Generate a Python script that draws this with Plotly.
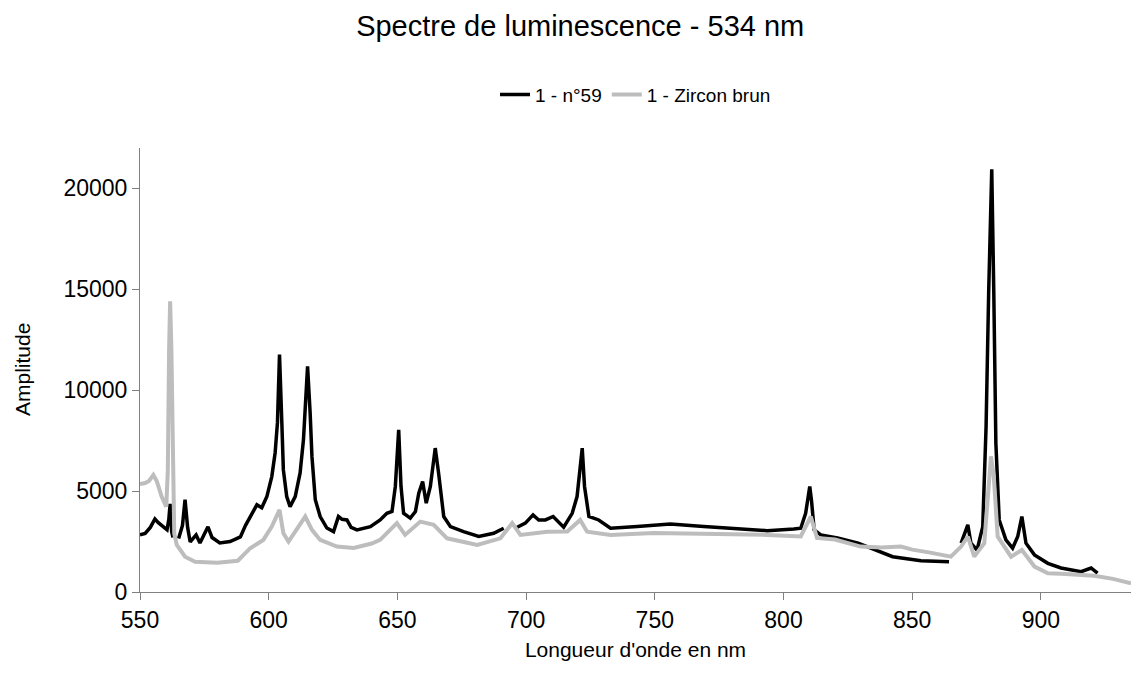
import plotly.graph_objects as go

# Series 1 - n°59 (black)
wl_n59 = [550, 552, 554, 555.8, 557, 558.5, 560.5, 561.2, 561.7, 562.3, 562.8, None,
          565, 566.5, 567.5, 568.5, 569.5, 571.8, 573.3, 576.4, 578, 581, 585, 589,
          591, 592.8, 595.4, 597.3, 599.3, 601.2, 602.5, 603.4, 604.2, 605.1, 605.7,
          607, 608.3, 610.3, 612.2, 613.5, 614.4, 615.1, 616.1, 616.8, 618.1, 620,
          622.6, 625.2, 627.1, 628.5, 630.4, 632, 634.3, 639.5, 643.3, 645.9, 647.9,
          649.2, 650.5, 651.4, 652.4, 655, 657, 658.3, 659.8, 661.2, 662.8, 664.7,
          666, 668, 670.6, 675.7, 681.6, 687.4, 691.3, None,
          695.8, 699.7, 702.7, 704.9, 707.5, 710.5, 714.6, 717.9, 719.8, 721.8,
          722.7, 724.4, 728.2, 732.8, 743.2, 756, 769, 782, 793.7, 804, 806.7,
          808.6, 809.5, 810.2, 810.9, 811.9, 814.5, 821, 829, 842.4, 853.4, 864.3, None,
          869, 871.6, 872.8, 875.2, 877.4, 878.7, 879.7, 880.9, 881.7, 882.5, 883.8,
          886.4, 889, 891, 892.6, 894.2, 897.5, 902.7, 907.8, 915.6, 919.5, 922]
amp_n59 = [2830, 2900, 3200, 3620, 3450, 3300, 3080, 3600, 4370, 3000, 2700, None,
           2650, 3300, 4570, 3200, 2480, 2830, 2430, 3230, 2700, 2430, 2500, 2730,
           3300, 3740, 4320, 4170, 4730, 5720, 6900, 8390, 11760, 8390, 6050,
           4730, 4230, 4730, 5900, 7540, 9530, 11180, 8880, 6720, 4570, 3740,
           3170, 2990, 3740, 3600, 3570, 3200, 3080, 3240, 3570, 3900, 3990,
           5230, 8040, 5230, 3900, 3660, 3990, 4900, 5470, 4400, 5230, 7130,
           5890, 3740, 3240, 2990, 2750, 2910, 3160, None,
           3160, 3410, 3820, 3570, 3570, 3740, 3210, 3900, 4730, 7130,
           5230, 3740, 3570, 3160, 3240, 3370, 3240, 3130, 3040, 3120, 3160,
           3900, 4600, 5230, 4500, 3080, 2830, 2680, 2420, 1750, 1550, 1500, None,
           2420, 3330, 2420, 2080, 3240, 8200, 14820, 20940, 14820, 7380, 3570,
           2580, 2170, 2750, 3740, 2420, 1840, 1420, 1190, 1010, 1190, 940]

# Series 1 - Zircon brun (grey)
wl_zircon = [550, 552, 553.5, 555.2, 556.5, 558.4, 560.2, 560.8, 561.3, 561.7, 562.2,
             562.7, 563.3, 564.3, 567.5, 571.4, 580, 588, 592.8, 597.9, 601.2, 604.2,
             605.7, 607.7, 610.9, 614.2, 616.8, 620, 626.5, 633, 640, 643.3, 649.8,
             653, 658.9, 664.1, 669.3, 681, 690, 694.6, 697.8, 708.2, 716, 721,
             723.7, 732.8, 749.5, 770, 793.7, 806.7, 810.6, 813, 820, 830,
             838, 845.6, 850, 857, 865, 869, 871.6, 874.1, 878, 880, 880.6, 881.7,
             883.2, 888.4, 892.6, 897.5, 902.7, 907.8, 920.7, 928, 935]
amp_zircon = [5350, 5400, 5500, 5800, 5500, 4730, 4230, 6000, 12000, 14400, 12000,
              6000, 2900, 2330, 1750, 1500, 1450, 1550, 2170, 2580, 3240, 4070,
              2910, 2500, 3080, 3740, 3080, 2580, 2250, 2180, 2400, 2580, 3410,
              2830, 3490, 3330, 2660, 2330, 2660, 3410, 2830, 2990, 3000, 3570,
              2990, 2830, 2920, 2880, 2830, 2750, 3740, 2680, 2600, 2250,
              2200, 2250, 2100, 1950, 1750, 2250, 2750, 1750, 2420, 5720, 6720, 5720,
              2750, 1750, 2080, 1260, 930, 900, 800, 650, 430]

x_ticks = [550, 600, 650, 700, 750, 800, 850, 900]
y_ticks = [0, 5000, 10000, 15000, 20000]
y_tick_labels = ["0", "5000", "10000", "15000", "20000"]

FONT = "Liberation Sans, Arial, sans-serif"

fig = go.Figure()
fig.add_trace(go.Scatter(x=wl_n59, y=amp_n59, mode="lines", name="1 - n°59",
                         line=dict(color="black", width=3.5), connectgaps=False))
fig.add_trace(go.Scatter(x=wl_zircon, y=amp_zircon, mode="lines", name="1 - Zircon brun",
                         line=dict(color="#bdbdbd", width=4)))

fig.update_layout(
    width=1131, height=693,
    margin=dict(l=140, r=0, t=148, b=101),
    paper_bgcolor="white", plot_bgcolor="white",
    font=dict(family=FONT, color="black", size=20),
    title=dict(text="Spectre de luminescence - 534 nm", x=0.513, xref="container",
               xanchor="center", y=0.962, yref="container", yanchor="middle",
               font=dict(size=29, family=FONT, color="black")),
    legend=dict(orientation="h", x=0.5, xanchor="center", y=1.12, yanchor="middle",
                font=dict(size=19, family=FONT, color="black"), bgcolor="rgba(0,0,0,0)"),
    showlegend=True,
    annotations=[dict(text="Amplitude", x=0, xref="paper", xshift=-118, xanchor="center",
                      y=0.5, yref="paper", yanchor="middle", textangle=-90,
                      showarrow=False, font=dict(size=21, family=FONT, color="black"))],
)
fig.update_xaxes(range=[550, 935], tickvals=x_ticks, showgrid=False, zeroline=False,
                 showline=True, linecolor="#808080", linewidth=1,
                 ticks="outside", ticklen=7, tickcolor="#808080",
                 tickfont=dict(size=23, family=FONT, color="black"),
                 title=dict(text="Longueur d'onde en nm", standoff=10,
                            font=dict(size=21, family=FONT, color="black")))
fig.update_yaxes(range=[0, 22000], tickvals=y_ticks, ticktext=y_tick_labels,
                 showgrid=False, zeroline=False,
                 showline=True, linecolor="#808080", linewidth=1,
                 ticks="outside", ticklen=7, tickcolor="#808080",
                 tickfont=dict(size=23, family=FONT, color="black"))

fig.write_html("out.html")
